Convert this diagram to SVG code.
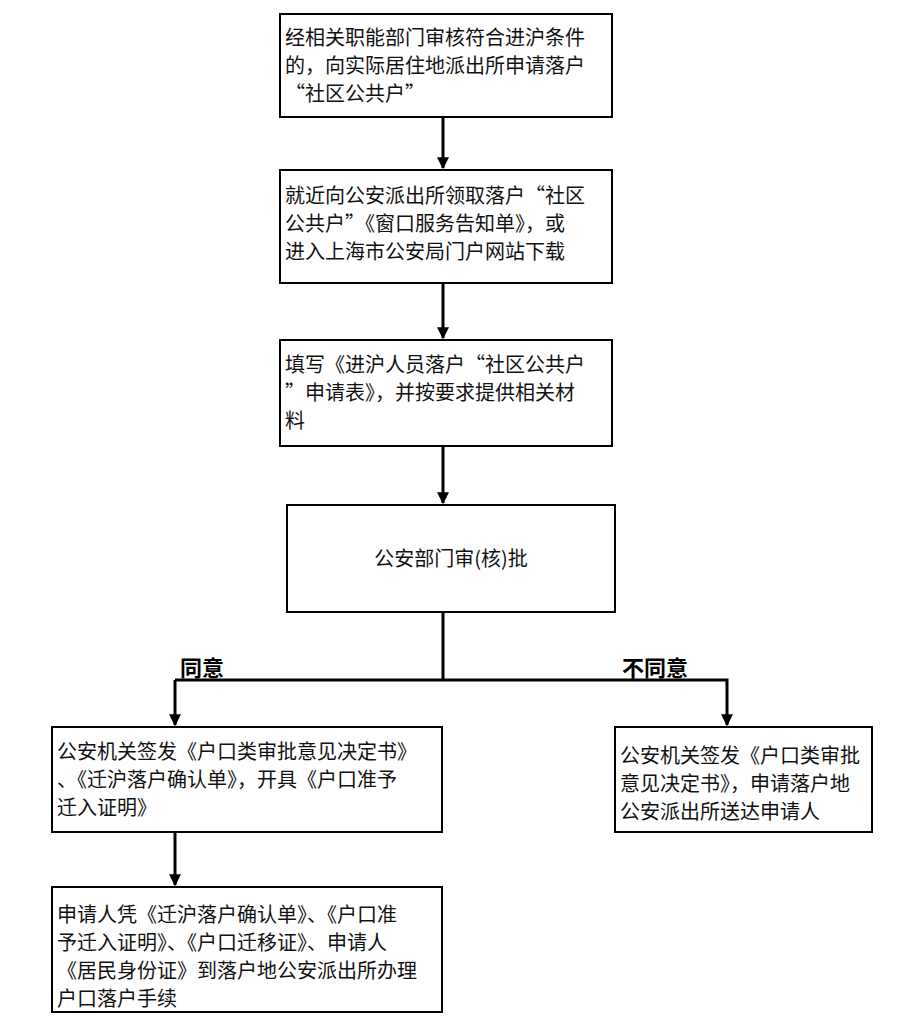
<svg xmlns="http://www.w3.org/2000/svg" width="920" height="1024" viewBox="0 0 920 1024">
<defs>
<style>
.b{fill:#fff;stroke:#000;stroke-width:2}
.t{font-family:"Noto Sans CJK SC","Liberation Sans",sans-serif;font-size:20px;fill:#111}
.l{font-family:"Noto Sans CJK SC","Liberation Sans",sans-serif;font-size:22px;font-weight:bold;fill:#000}
.c{stroke:#000;stroke-width:3;fill:none}
</style>
<marker id="a" viewBox="0 0 10 10" refX="9" refY="5" markerWidth="4" markerHeight="4" orient="auto"><path d="M0,0L10,5L0,10z" fill="#000"/></marker>
</defs>
<rect width="920" height="1024" fill="#fff"/>
<g id="connectors">
<line class="c" x1="443" y1="117" x2="443" y2="168" marker-end="url(#a)"/>
<line class="c" x1="443" y1="283" x2="443" y2="338" marker-end="url(#a)"/>
<line class="c" x1="443" y1="446" x2="443" y2="503" marker-end="url(#a)"/>
<polyline class="c" points="443,612 443,680"/>
<polyline class="c" points="175,680 727,680 727,725" marker-end="url(#a)"/>
<line class="c" x1="175" y1="680" x2="175" y2="725" marker-end="url(#a)"/>
<line class="c" x1="175" y1="832" x2="175" y2="885" marker-end="url(#a)"/>
<text class="l" x="180" y="676">同意</text>
<text class="l" x="622" y="676">不同意</text>
</g>
<g id="n1"><rect class="b" x="280" y="14" width="332" height="103"/>
<text class="t" x="285" y="45">经相关职能部门审核符合进沪条件</text><text class="t" x="285" y="73">的，向实际居住地派出所申请落户</text><text class="t" x="285" y="101">“社区公共户”</text></g>
<g id="n2"><rect class="b" x="280" y="170" width="332" height="113"/>
<text class="t" x="285" y="203">就近向公安派出所领取落户“社区</text><text class="t" x="285" y="231">公共户”《窗口服务告知单》，或</text><text class="t" x="285" y="259">进入上海市公安局门户网站下载</text></g>
<g id="n3"><rect class="b" x="280" y="340" width="332" height="106"/>
<text class="t" x="285" y="372">填写《进沪人员落户“社区公共户</text><text class="t" x="285" y="400">”申请表》，并按要求提供相关材</text><text class="t" x="285" y="428">料</text></g>
<g id="n4"><rect class="b" x="287" y="505" width="328" height="107"/>
<text class="t" x="451" y="566" text-anchor="middle">公安部门审(核)批</text></g>
<g id="n5"><rect class="b" x="52" y="727" width="390" height="105"/>
<text class="t" x="57" y="759">公安机关签发《户口类审批意见决定书》</text><text class="t" x="57" y="787">、《迁沪落户确认单》，开具《户口准予</text><text class="t" x="57" y="815">迁入证明》</text></g>
<g id="n6"><rect class="b" x="615" y="727" width="257" height="105"/>
<text class="t" x="620" y="763">公安机关签发《户口类审批</text><text class="t" x="620" y="791">意见决定书》，申请落户地</text><text class="t" x="620" y="819">公安派出所送达申请人</text></g>
<g id="n7"><rect class="b" x="52" y="887" width="390" height="125"/>
<text class="t" x="57" y="922">申请人凭《迁沪落户确认单》、《户口准</text><text class="t" x="57" y="950">予迁入证明》、《户口迁移证》、申请人</text><text class="t" x="57" y="978">《居民身份证》到落户地公安派出所办理</text><text class="t" x="57" y="1006">户口落户手续</text></g>
</svg>
